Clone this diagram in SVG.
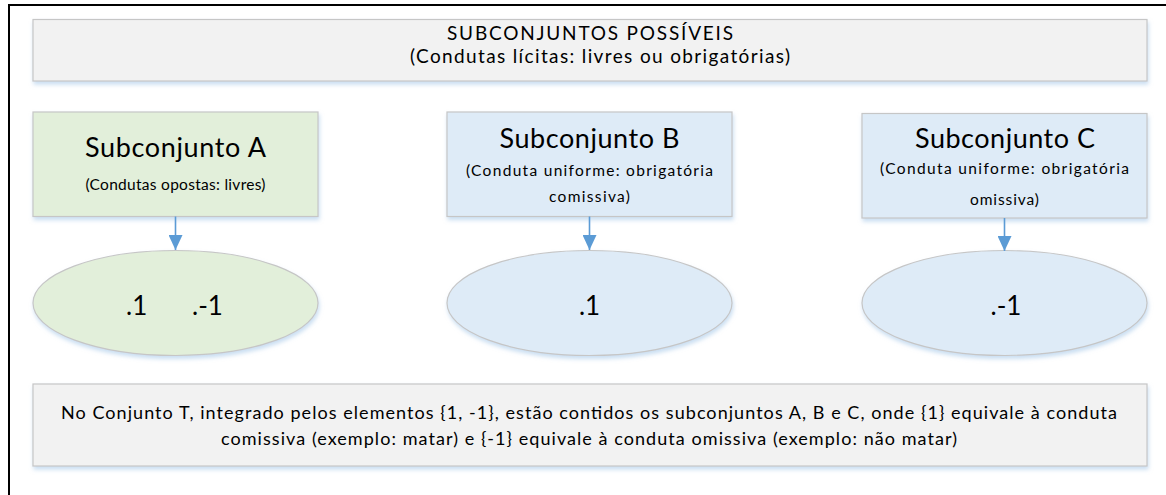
<svg xmlns="http://www.w3.org/2000/svg" width="1166" height="495" viewBox="0 0 1166 495">
  <defs>
    <filter id="sh" x="-10%" y="-10%" width="120%" height="140%">
      <feDropShadow dx="1" dy="3" stdDeviation="2.2" flood-color="#9dc3e6" flood-opacity="0.55"/>
    </filter>
    <marker id="arr" markerUnits="userSpaceOnUse" markerWidth="15" markerHeight="14" refX="15" refY="7" orient="auto" viewBox="0 0 15 14">
      <path d="M0,0 L15,7 L0,14 z" fill="#5b9bd5"/>
    </marker>
    <style>
      text { font-family: Lato, "Liberation Sans", sans-serif; fill: #000; }
      .box { stroke: #c6c6c6; stroke-width: 1.2; filter: url(#sh); }
      .grey { fill: #f2f2f2; }
      .green { fill: #e2efda; }
      .blue { fill: #deebf7; }
      .t1 { font-size: 19px; text-anchor: middle; }
      .tt { font-size: 27px; text-anchor: middle; }
      .st { font-size: 15.5px; text-anchor: middle; }
      .num { font-size: 26px; }
      .bt { font-size: 18px; text-anchor: middle; }
      .conn line { stroke: #5b9bd5; stroke-width: 1.6; marker-end: url(#arr); }
    </style>
  </defs>

  <rect x="9" y="5" width="1200" height="540" fill="#ffffff" stroke="#000000" stroke-width="2"/>

  <g id="header">
    <rect class="box grey" x="33" y="19.5" width="1114" height="61.5"/>
    <text class="t1" x="590" y="40" textLength="286">SUBCONJUNTOS POSSÍVEIS</text>
    <text class="t1" x="600" y="63" textLength="380">(Condutas lícitas: livres ou obrigatórias)</text>
  </g>

  <g id="subA">
    <rect class="box green" x="33" y="112" width="285" height="104.5"/>
    <text class="tt" x="175.5" y="157" textLength="181">Subconjunto A</text>
    <text class="st" x="175.5" y="190" textLength="180">(Condutas opostas: livres)</text>
  </g>

  <g id="subB">
    <rect class="box blue" x="447" y="112" width="285" height="104.5"/>
    <text class="tt" x="589.5" y="148" textLength="180">Subconjunto B</text>
    <text class="st" x="589.5" y="176" textLength="247">(Conduta uniforme: obrigatória</text>
    <text class="st" x="589.5" y="201.5" textLength="81">comissiva)</text>
  </g>

  <g id="subC">
    <rect class="box blue" x="862" y="113.5" width="285" height="104.5"/>
    <text class="tt" x="1005" y="148" textLength="180">Subconjunto C</text>
    <text class="st" x="1004.5" y="173.5" textLength="249">(Conduta uniforme: obrigatória</text>
    <text class="st" x="1004.5" y="205" textLength="69">omissiva)</text>
  </g>

  <g id="setA">
    <ellipse class="box green" cx="175.5" cy="303" rx="142.5" ry="52.5"/>
    <text class="num" y="315"><tspan x="126">.1</tspan><tspan x="192">.-1</tspan></text>
  </g>

  <g id="setB">
    <ellipse class="box blue" cx="589.5" cy="303" rx="142.5" ry="52.5"/>
    <text class="num" x="589.5" y="315" text-anchor="middle">.1</text>
  </g>

  <g id="setC">
    <ellipse class="box blue" cx="1004.5" cy="303" rx="142.5" ry="52.5"/>
    <text class="num" x="1006" y="315" text-anchor="middle">.-1</text>
  </g>

  <g id="note">
    <rect class="box grey" x="33" y="384" width="1114" height="82"/>
    <text class="bt" x="589" y="419" textLength="1056">No Conjunto T, integrado pelos elementos  {1, -1}, estão contidos os subconjuntos A, B e C, onde {1} equivale à conduta</text>
    <text class="bt" x="589" y="445" textLength="736">comissiva (exemplo: matar) e {-1} equivale à conduta omissiva (exemplo: não matar)</text>
  </g>

  <g id="connectors" class="conn">
    <line x1="175.5" y1="216.5" x2="175.5" y2="250"/>
    <line x1="589.5" y1="216.5" x2="589.5" y2="250"/>
    <line x1="1004.5" y1="218" x2="1004.5" y2="251"/>
  </g>
</svg>
